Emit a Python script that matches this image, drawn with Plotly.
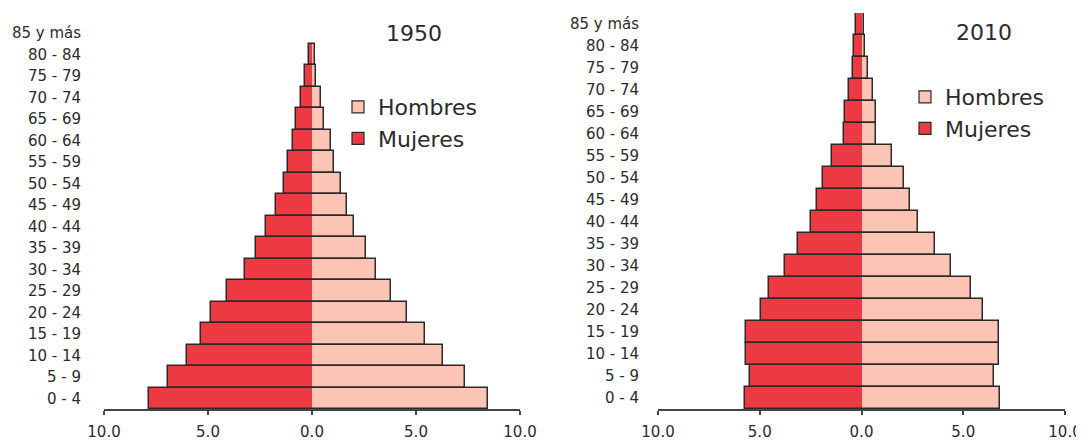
import plotly.graph_objects as go

# ---- data -------------------------------------------------------------
age_groups = ["0 - 4", "5 - 9", "10 - 14", "15 - 19", "20 - 24", "25 - 29",
              "30 - 34", "35 - 39", "40 - 44", "45 - 49", "50 - 54", "55 - 59",
              "60 - 64", "65 - 69", "70 - 74", "75 - 79", "80 - 84", "85 y más"]

mujeres_1950 = [7.86, 6.92, 6.03, 5.36, 4.87, 4.11, 3.21, 2.67, 2.19, 1.74,
                1.37, 1.14, 0.93, 0.75, 0.55, 0.35, 0.15, None]
hombres_1950 = [8.44, 7.37, 6.32, 5.43, 4.55, 3.81, 3.06, 2.60, 2.04, 1.66,
                1.41, 1.08, 0.91, 0.58, 0.41, 0.20, 0.12, None]

mujeres_2010 = [5.72, 5.47, 5.66, 5.66, 4.96, 4.57, 3.78, 3.10, 2.50, 2.20,
                1.91, 1.43, 0.85, 0.83, 0.63, 0.44, 0.36, 0.26]
hombres_2010 = [6.83, 6.52, 6.78, 6.78, 5.95, 5.37, 4.41, 3.59, 2.79, 2.40,
                2.10, 1.52, 0.73, 0.70, 0.56, 0.32, 0.15, 0.10]

x_tickvals = [-10, -5, 0, 5, 10]
x_ticktext = ["10.0", "5.0", "0.0", "5.0", "10.0"]
titles = ["1950", "2010"]

# ---- style ------------------------------------------------------------
RED = "#ED3942"
PINK = "#FBC4B5"
EDGE = "#2a2a2a"
TXT = "#2b2b2b"
FONT = "DejaVu Sans"

fig = go.Figure()


def neg(v):
    return None if v is None else -v


def total(m, h):
    return None if (m is None or h is None) else m + h


def add_pyramid(muj, hom, xa, ya, legend):
    # fills (no outline, so no line at zero)
    fig.add_trace(go.Bar(y=age_groups, x=hom, orientation="h",
                         marker=dict(color=PINK, line=dict(width=0)),
                         xaxis=xa, yaxis=ya, showlegend=False, hoverinfo="skip"))
    fig.add_trace(go.Bar(y=age_groups, x=[neg(v) for v in muj], orientation="h",
                         marker=dict(color=RED, line=dict(width=0)),
                         xaxis=xa, yaxis=ya, showlegend=False, hoverinfo="skip"))
    # outline of each full row
    fig.add_trace(go.Bar(y=age_groups, x=[total(m, h) for m, h in zip(muj, hom)],
                         base=[neg(v) for v in muj], orientation="h",
                         marker=dict(color="rgba(0,0,0,0)", line=dict(color=EDGE, width=1.5)),
                         xaxis=xa, yaxis=ya, showlegend=False, hoverinfo="skip"))
    # legend entries
    fig.add_trace(go.Bar(y=[None], x=[None], orientation="h", name="Hombres",
                         marker=dict(color=PINK, line=dict(color=EDGE, width=1.2)),
                         xaxis=xa, yaxis=ya, legend=legend, legendrank=1))
    fig.add_trace(go.Bar(y=[None], x=[None], orientation="h", name="Mujeres",
                         marker=dict(color=RED, line=dict(color=EDGE, width=1.2)),
                         xaxis=xa, yaxis=ya, legend=legend, legendrank=2))


add_pyramid(mujeres_1950, hombres_1950, "x", "y", "legend")
add_pyramid(mujeres_2010, hombres_2010, "x2", "y2", "legend2")

# page body has an 8px margin: figure is drawn 8px right/down
OFF = 8
W, H = 1084 - OFF, 446 - OFF


def px_x(p):
    return (p - OFF) / W


def px_y(p):
    return (H - (p - OFF)) / H


def xaxis_cfg(left_px, right_px, anchor):
    return dict(domain=[px_x(left_px), px_x(right_px)], range=[-10, 10], anchor=anchor,
                tickmode="array", tickvals=x_tickvals, ticktext=x_ticktext,
                ticks="outside", ticklen=4, tickwidth=1.5, tickcolor="#444",
                ticklabelstandoff=4,
                showline=True, linecolor="#444", linewidth=1.5,
                showgrid=False, zeroline=False, fixedrange=True, automargin=False,
                tickfont=dict(family=FONT, size=15, color=TXT))


def yaxis_cfg(top_px, bottom_px, standoff, anchor):
    return dict(domain=[px_y(bottom_px), px_y(top_px)], anchor=anchor,
                type="category", categoryorder="array", categoryarray=age_groups,
                range=[-0.5, len(age_groups) - 0.5],
                showline=False, showgrid=False, zeroline=False, ticks="",
                ticklabelstandoff=standoff, automargin=False, fixedrange=True,
                tickfont=dict(family=FONT, size=15, color=TXT))


legend_common = dict(font=dict(family=FONT, size=22, color=TXT),
                     bgcolor="rgba(0,0,0,0)", borderwidth=0,
                     xanchor="left", yanchor="top", tracegroupgap=0,
                     itemwidth=30, traceorder="normal")

fig.update_layout(
    width=W, height=H,
    margin=dict(l=0, r=0, t=0, b=0),
    paper_bgcolor="white", plot_bgcolor="white",
    barmode="overlay", bargap=0,
    xaxis=xaxis_cfg(104, 520, "y"),
    yaxis=yaxis_cfg(22, 409, 22, "x"),
    xaxis2=xaxis_cfg(658, 1065, "y2"),
    yaxis2=yaxis_cfg(13, 409, 18, "x2"),
    legend=dict(x=px_x(376 - 38), y=px_y(86), **legend_common),
    legend2=dict(x=px_x(943 - 38), y=px_y(76), **legend_common),
    annotations=[
        dict(text=titles[0], xref="x domain", yref="y domain", x=(414 - 104) / 416,
             y=(409 - 33) / 387, xanchor="center", yanchor="middle",
             showarrow=False, font=dict(family=FONT, size=22, color=TXT)),
        dict(text=titles[1], xref="x2 domain", yref="y2 domain", x=(984 - 658) / 407,
             y=(409 - 33) / 396, xanchor="center", yanchor="middle",
             showarrow=False, font=dict(family=FONT, size=22, color=TXT)),
    ],
)

fig.write_html("out.html")
